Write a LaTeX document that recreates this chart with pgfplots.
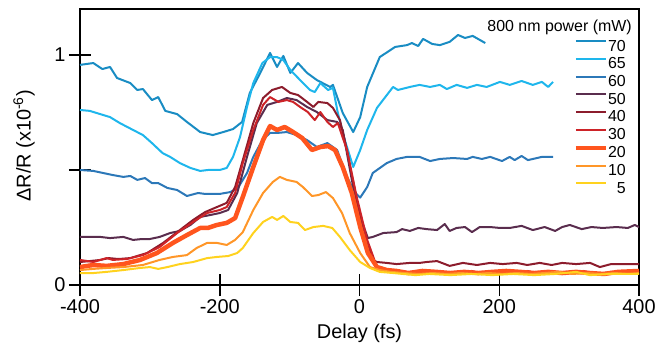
\documentclass[border=0pt]{standalone}
\usepackage{fontspec}
\setmainfont{Liberation Sans}
\usepackage{pgfplots}
\pgfplotsset{compat=1.18}
\definecolor{c70}{RGB}{25,140,195}
\definecolor{c65}{RGB}{30,182,236}
\definecolor{c60}{RGB}{44,120,184}
\definecolor{c50}{RGB}{90,45,78}
\definecolor{c40}{RGB}{140,28,44}
\definecolor{c30}{RGB}{205,35,40}
\definecolor{c20}{RGB}{255,85,30}
\definecolor{c10}{RGB}{255,150,40}
\definecolor{c5}{RGB}{255,210,30}
\begin{document}
\begin{tikzpicture}
\useasboundingbox (-80bp,-70bp) rectangle (577bp,285bp);
\begin{axis}[
  at={(0,0)}, anchor=south west,
  scale only axis, width=559bp, height=276bp,
  xmin=-400, xmax=400, ymin=0, ymax=1.2,
  axis line style={line width=1.5bp},
  tick style={line width=1.5bp, black},
  major tick length=22bp, tick align=center, tick pos=left,
  xtick={-400,-200,0,200,400}, xticklabels={-400,-200,0,200,400},
  ytick={0,0.5,1}, yticklabels={0,,1},
  ticklabel style={font=\fontsize{20}{22}\selectfont},
  label style={font=\fontsize{20}{24}\selectfont},
  xlabel={Delay (fs)},
  ylabel={ΔR/R (x10\textsuperscript{-6})},
  xlabel style={at={(axis description cs:0.5,-0.174)}, anchor=center},
  ylabel style={at={(axis description cs:-0.1,0.504)}, anchor=center},
  legend cell align=right,
  legend image code/.code={\draw[#1, line cap=butt] (0bp,4bp) -- (30bp,4bp);},
  legend style={at={(rel axis cs:0.9767,0.890)}, anchor=north east,
    draw=none, fill=none, inner sep=0pt, row sep=6.2bp, column sep=0bp,
    font=\fontsize{16}{18}\selectfont,
    nodes={inner sep=0pt, text height=11.5bp, text depth=0bp}},
  every axis plot/.append style={line width=2bp, line join=round},
]
\addplot[c70] coordinates {(-400,0.957)(-381,0.965)(-368,0.939)(-357,0.948)(-347,0.900)(-328,0.878)(-318,0.848)(-310,0.852)(-297,0.804)(-288,0.817)(-278,0.757)(-261,0.743)(-247,0.709)(-228,0.665)(-210,0.652)(-195,0.665)(-181,0.678)(-168,0.709)(-157,0.835)(-142,0.922)(-128,1.009)(-118,0.948)(-109,0.996)(-99,0.922)(-88,0.965)(-75,0.922)(-61,0.891)(-42,0.861)(-38,0.870)(-24,0.748)(-9,0.665)(1,0.730)(11,0.861)(29,0.991)(51,1.035)(68,1.043)(75,1.052)(84,1.039)(91,1.070)(104,1.048)(115,1.043)(129,1.057)(141,1.087)(151,1.074)(162,1.083)(180,1.052)};
\addlegendentry{70}
\addplot[c65] coordinates {(-400,0.761)(-386,0.757)(-371,0.743)(-357,0.730)(-343,0.704)(-324,0.674)(-310,0.652)(-297,0.617)(-282,0.574)(-271,0.557)(-257,0.530)(-242,0.509)(-228,0.496)(-217,0.500)(-200,0.500)(-190,0.509)(-181,0.557)(-171,0.643)(-161,0.774)(-152,0.878)(-139,0.965)(-128,0.991)(-118,0.991)(-109,0.978)(-99,0.935)(-85,0.891)(-71,0.848)(-64,0.839)(-56,0.878)(-45,0.848)(-38,0.857)(-31,0.748)(-21,0.630)(-9,0.513)(1,0.587)(11,0.674)(25,0.770)(48,0.861)(55,0.848)(72,0.861)(86,0.870)(101,0.861)(115,0.870)(125,0.852)(139,0.870)(154,0.857)(168,0.870)(182,0.861)(201,0.883)(215,0.870)(232,0.887)(248,0.870)(261,0.883)(270,0.861)(277,0.883)};
\addlegendentry{65}
\addplot[c60] coordinates {(-400,0.500)(-381,0.496)(-367,0.487)(-353,0.478)(-338,0.470)(-328,0.474)(-318,0.457)(-307,0.465)(-297,0.443)(-288,0.443)(-275,0.422)(-261,0.413)(-247,0.387)(-231,0.400)(-221,0.396)(-200,0.396)(-185,0.404)(-174,0.422)(-161,0.487)(-152,0.557)(-139,0.630)(-128,0.661)(-118,0.661)(-104,0.665)(-90,0.652)(-75,0.630)(-61,0.600)(-46,0.617)(-32,0.587)(-18,0.470)(-6,0.400)(1,0.380)(11,0.426)(19,0.487)(39,0.530)(53,0.548)(68,0.557)(86,0.557)(101,0.539)(115,0.548)(134,0.552)(154,0.548)(162,0.557)(175,0.548)(187,0.557)(204,0.539)(215,0.557)(222,0.543)(232,0.561)(241,0.543)(261,0.557)(277,0.557)};
\addlegendentry{60}
\addplot[c50] coordinates {(-400,0.209)(-386,0.209)(-371,0.209)(-357,0.204)(-338,0.209)(-324,0.196)(-311,0.200)(-300,0.200)(-286,0.209)(-271,0.226)(-257,0.235)(-242,0.261)(-228,0.296)(-214,0.304)(-200,0.313)(-188,0.326)(-175,0.400)(-161,0.557)(-147,0.704)(-132,0.783)(-118,0.796)(-104,0.813)(-90,0.804)(-75,0.774)(-61,0.752)(-46,0.717)(-32,0.709)(-24,0.674)(-11,0.457)(1,0.296)(12,0.204)(19,0.209)(34,0.226)(53,0.230)(61,0.243)(72,0.235)(84,0.248)(96,0.243)(111,0.239)(122,0.265)(129,0.235)(139,0.248)(151,0.252)(161,0.230)(172,0.252)(187,0.252)(201,0.248)(215,0.248)(232,0.257)(248,0.239)(265,0.252)(280,0.235)(290,0.252)(301,0.261)(318,0.243)(332,0.252)(348,0.248)(368,0.252)(384,0.248)(394,0.261)(400,0.252)};
\addlegendentry{50}
\addplot[c40] coordinates {(-400,0.100)(-386,0.104)(-371,0.109)(-359,0.117)(-345,0.113)(-328,0.117)(-304,0.139)(-281,0.183)(-257,0.239)(-238,0.283)(-221,0.317)(-204,0.339)(-190,0.357)(-178,0.426)(-167,0.543)(-152,0.704)(-138,0.813)(-125,0.848)(-111,0.861)(-99,0.835)(-88,0.826)(-75,0.796)(-66,0.774)(-59,0.796)(-46,0.791)(-38,0.770)(-28,0.717)(-18,0.587)(-4,0.370)(8,0.209)(19,0.109)(25,0.100)(39,0.096)(53,0.091)(72,0.096)(86,0.096)(96,0.100)(111,0.104)(129,0.083)(148,0.096)(168,0.087)(187,0.096)(205,0.091)(225,0.096)(240,0.087)(258,0.096)(275,0.087)(290,0.096)(310,0.091)(330,0.096)(344,0.078)(360,0.091)(380,0.091)(400,0.091)};
\addlegendentry{40}
\addplot[c30] coordinates {(-400,0.109)(-381,0.100)(-362,0.117)(-353,0.109)(-333,0.113)(-310,0.130)(-286,0.165)(-261,0.226)(-238,0.274)(-218,0.313)(-200,0.326)(-190,0.339)(-178,0.400)(-167,0.530)(-152,0.674)(-138,0.783)(-128,0.817)(-116,0.796)(-104,0.804)(-95,0.796)(-85,0.774)(-74,0.752)(-64,0.717)(-56,0.752)(-46,0.709)(-38,0.687)(-31,0.704)(-18,0.587)(-4,0.383)(11,0.196)(25,0.078)(39,0.065)(55,0.057)(70,0.052)(85,0.061)(100,0.048)(120,0.057)(140,0.052)(160,0.061)(180,0.048)(200,0.057)(220,0.052)(240,0.061)(260,0.048)(280,0.057)(300,0.052)(320,0.061)(340,0.048)(360,0.057)(380,0.052)(400,0.061)};
\addlegendentry{30}
\addplot[c20, line width=4.5bp] coordinates {(-400,0.078)(-381,0.087)(-362,0.083)(-338,0.091)(-314,0.109)(-290,0.139)(-267,0.183)(-247,0.217)(-228,0.248)(-217,0.248)(-204,0.261)(-190,0.270)(-178,0.291)(-167,0.383)(-152,0.513)(-138,0.630)(-128,0.691)(-118,0.674)(-107,0.687)(-95,0.665)(-82,0.639)(-68,0.587)(-56,0.600)(-45,0.604)(-35,0.587)(-24,0.513)(-11,0.400)(1,0.252)(12,0.139)(25,0.078)(39,0.065)(53,0.061)(70,0.052)(90,0.061)(110,0.057)(130,0.052)(150,0.057)(170,0.052)(190,0.057)(210,0.061)(230,0.057)(250,0.052)(270,0.057)(290,0.052)(310,0.057)(330,0.052)(350,0.048)(370,0.057)(400,0.061)};
\addlegendentry{20}
\addplot[c10] coordinates {(-400,0.065)(-381,0.070)(-362,0.074)(-338,0.078)(-310,0.087)(-286,0.109)(-267,0.122)(-247,0.130)(-233,0.161)(-218,0.183)(-204,0.183)(-190,0.174)(-178,0.196)(-167,0.230)(-152,0.326)(-138,0.400)(-124,0.448)(-114,0.470)(-104,0.457)(-90,0.448)(-81,0.426)(-68,0.387)(-59,0.391)(-48,0.404)(-38,0.378)(-25,0.313)(-14,0.226)(1,0.139)(15,0.078)(29,0.065)(45,0.057)(65,0.052)(85,0.048)(105,0.052)(125,0.048)(145,0.052)(165,0.048)(185,0.052)(205,0.048)(225,0.052)(245,0.048)(265,0.052)(285,0.057)(305,0.048)(325,0.052)(345,0.048)(365,0.052)(385,0.048)(400,0.052)};
\addlegendentry{10}
\addplot[c5] coordinates {(-400,0.052)(-381,0.052)(-362,0.057)(-338,0.065)(-314,0.074)(-300,0.078)(-288,0.070)(-275,0.078)(-257,0.091)(-238,0.100)(-218,0.117)(-204,0.122)(-188,0.126)(-175,0.139)(-167,0.161)(-152,0.226)(-138,0.274)(-125,0.296)(-118,0.283)(-109,0.300)(-99,0.274)(-88,0.270)(-78,0.239)(-66,0.252)(-52,0.257)(-39,0.248)(-28,0.209)(-14,0.152)(1,0.100)(15,0.074)(29,0.057)(48,0.052)(80,0.043)(100,0.048)(130,0.043)(160,0.048)(190,0.043)(220,0.048)(250,0.043)(280,0.048)(310,0.057)(330,0.043)(360,0.048)(400,0.048)};
\addlegendentry{5}
\node[anchor=east, inner sep=0pt, font=\fontsize{16}{18}\selectfont] at (rel axis cs:0.9875,0.935) {800 nm power (mW)};
\end{axis}
\end{tikzpicture}
\end{document}
